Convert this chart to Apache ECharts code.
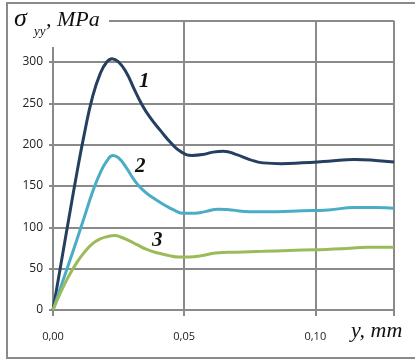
<!DOCTYPE html>
<html>
<head>
<meta charset="utf-8">
<script src="https://cdn.jsdelivr.net/npm/echarts@6/dist/echarts.min.js"></script>
<style>
html,body{margin:0;padding:0;background:#fff;}
#chart{width:415px;height:362px;}
</style>
</head>
<body>
<div id="chart"></div>
<script>
// Data: [y in mm, sigma_yy in MPa]
var curve1 = [[0,0],[0.003,55],[0.006,110],[0.009,164],[0.012,214],[0.015,257],[0.018,286],[0.0205,300],[0.0225,304],[0.025,300],[0.028,287],[0.031,267],[0.034,248],[0.037,233],[0.041,217],[0.045,202],[0.049,191],[0.053,187],[0.057,188],[0.061,191],[0.065,192],[0.070,188],[0.075,182],[0.080,178],[0.087,177],[0.095,178],[0.105,180],[0.115,182],[0.123,181],[0.13,179]];
var curve2 = [[0,0],[0.003,28],[0.006,56],[0.009,84],[0.012,113],[0.015,142],[0.018,166],[0.0205,180],[0.0228,187],[0.025,184],[0.028,172],[0.031,157],[0.034,146],[0.038,136],[0.042,128],[0.046,121],[0.050,117],[0.054,117],[0.058,119],[0.063,122],[0.068,121],[0.075,119],[0.085,119],[0.095,120],[0.105,121],[0.115,124],[0.123,124],[0.13,123]];
var curve3 = [[0,0],[0.003,22],[0.006,41],[0.009,57],[0.012,70],[0.015,80],[0.018,86],[0.021,89],[0.0235,90],[0.026,88],[0.029,84],[0.032,79],[0.036,73],[0.040,69],[0.044,66],[0.048,64],[0.052,64],[0.057,66],[0.062,69],[0.070,70],[0.08,71],[0.09,72],[0.10,73],[0.11,74],[0.12,76],[0.13,76]];
var curveNames = ['1','2','3'];
var yTicks = [0,50,100,150,200,250,300];
var xTicks = [0,0.05,0.10];

var chart = echarts.init(document.getElementById('chart'), null, {renderer:'canvas'});
var gridColor = '#8a8a8a';
var serif = '"Liberation Serif","Times New Roman",serif';

function mkSeries(name, data, color){
  return {name:name, type:'line', data:data, smooth:0.5, symbol:'none',
    lineStyle:{color:color, width:3}, z:5};
}

chart.setOption({
  animation:false,
  grid:{left:53, right:21, top:20.7, bottom:52},
  xAxis:{type:'value', min:0, max:0.13, interval:0.05,
    axisLine:{show:false},
    axisTick:{show:true, length:6, lineStyle:{color:gridColor, width:2}},
    splitLine:{show:true, lineStyle:{color:gridColor, width:2}},
    axisLabel:{margin:21, fontSize:11, color:'#222', fontFamily:'"Open Sans",sans-serif',
      formatter:function(v){
        for (var i=0;i<xTicks.length;i++){ if (Math.abs(v-xTicks[i])<1e-9) return xTicks[i].toFixed(2).replace('.',','); }
        return '';
      }}
  },
  yAxis:{type:'value', min:0, max:350, interval:50,
    axisLine:{show:true, lineStyle:{color:gridColor, width:2}},
    axisTick:{show:true, length:4, lineStyle:{color:gridColor, width:2}},
    splitLine:{show:true, lineStyle:{color:gridColor, width:2}},
    axisLabel:{margin:10, fontSize:12, color:'#222', fontFamily:'"Open Sans",sans-serif',
      formatter:function(v){ return yTicks.indexOf(v)>=0 ? String(v) : ''; }}
  },
  series:[
    mkSeries(curveNames[0], curve1, '#243f60'),
    mkSeries(curveNames[1], curve2, '#4bacc6'),
    mkSeries(curveNames[2], curve3, '#9bbb59')
  ],
  graphic:[
    {type:'rect', shape:{x:7, y:3, width:420, height:355}, style:{fill:'none', stroke:'#8a8a8a', lineWidth:2}, z:100},
    {type:'rect', shape:{x:9, y:5, width:100, height:42}, style:{fill:'#fff'}, z:90},
    {type:'text', x:14, y:6, style:{text:'σ', font:'italic 26px '+serif, fill:'#111'}, z:95},
    {type:'text', x:34, y:25, style:{text:'yy', font:'italic 13px '+serif, fill:'#111'}, z:95},
    {type:'text', x:46, y:9, style:{text:', MPa', font:'italic 22px '+serif, fill:'#111'}, z:95},
    {type:'text', x:351, y:320, style:{text:'y, mm', font:'italic 22px '+serif, fill:'#111'}, z:95},
    {type:'text', x:139, y:71, style:{text:curveNames[0], font:'italic bold 21px '+serif, fill:'#111'}, z:95},
    {type:'text', x:135, y:156, style:{text:curveNames[1], font:'italic bold 21px '+serif, fill:'#111'}, z:95},
    {type:'text', x:152, y:230, style:{text:curveNames[2], font:'italic bold 21px '+serif, fill:'#111'}, z:95}
  ]
});
</script>
</body>
</html>
